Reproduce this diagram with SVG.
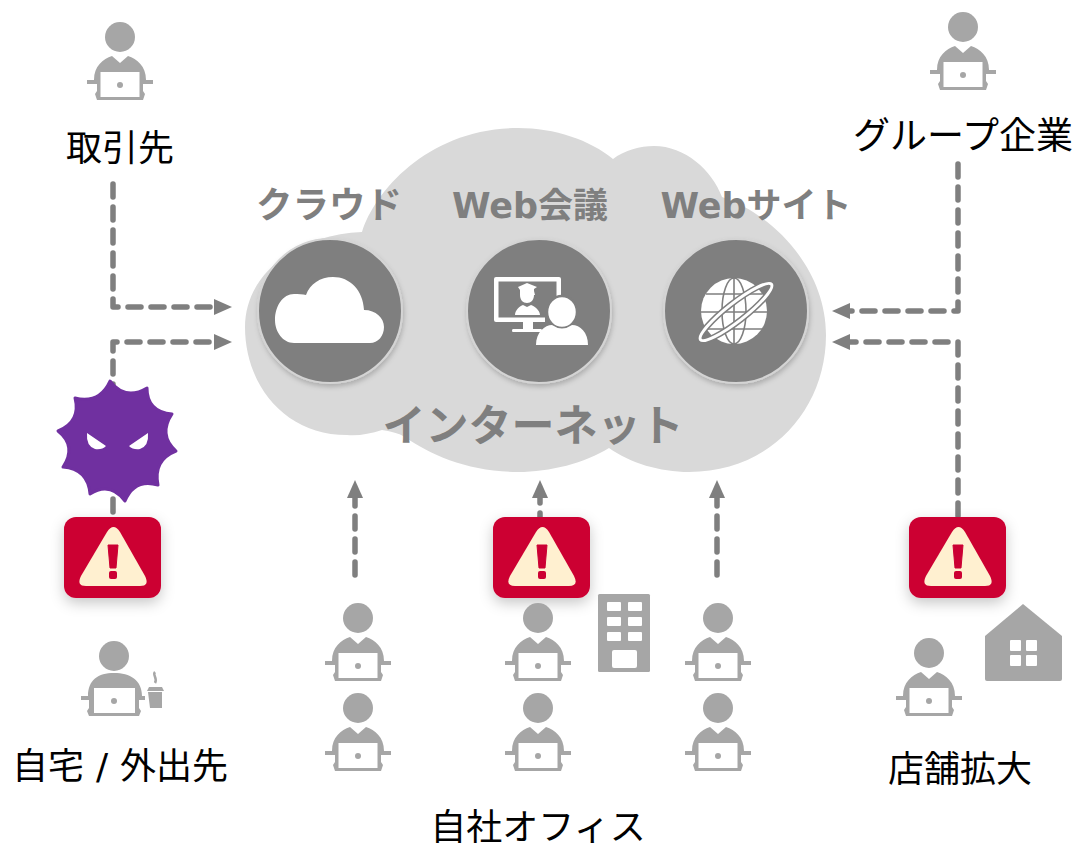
<svg xmlns="http://www.w3.org/2000/svg" xmlns:xlink="http://www.w3.org/1999/xlink" width="1076" height="848" viewBox="0 0 1076 848">
<style>
.lbl{font-family:"Liberation Sans","Noto Sans CJK JP",sans-serif;font-size:36px;fill:#000;text-anchor:middle}
.ttl{font-family:"DejaVu Sans","Noto Sans CJK JP",sans-serif;font-weight:700;fill:#7f7f7f;text-anchor:middle}
.dash{fill:none;stroke:#7f7f7f;stroke-width:5.500;stroke-dasharray:13 10;stroke-linecap:round;stroke-linejoin:round}
.c{fill:#7f7f7f;stroke:#d4d4d4;stroke-width:2;filter:url(#sh)}
.g{fill:#a6a6a6}
.w{fill:#fff}
</style>
<defs>
<filter id="sh" x="-20%" y="-20%" width="140%" height="140%"><feDropShadow dx="1" dy="3" stdDeviation="2.500" flood-color="#000" flood-opacity=".2"/></filter>
<filter id="as" x="-30%" y="-30%" width="160%" height="170%"><feDropShadow dx="0" dy="5" stdDeviation="7" flood-color="#000" flood-opacity=".22"/></filter>
<g id="person">
<circle cx="0" cy="0" r="15" class="g"/>
<path class="g" d="M-26 43C-26 29-17 22-8 19L0 26 8 19C17 22 26 29 26 43V47H23V54L25 57 23 63H-23L-25 57-23 54V47H-26Z"/>
<rect x="-33" y="43" width="66" height="4" class="g"/>
<rect x="-19.500" y="35" width="39" height="25" class="w"/>
<circle cx="0" cy="48" r="3" class="g"/>
</g>
<g id="alert">
<rect x="0" y="0" width="97" height="81" rx="12" fill="#cc0033" filter="url(#as)"/>
<path d="M43 15Q49.500 5 56 15L81 59Q86 69 76 69H22Q12 69 17 59Z" fill="#fff0d0"/>
<path d="M44 28H54L52 51H46Z" fill="#cc0033" stroke="#cc0033" stroke-width="1" stroke-linejoin="round"/>
<rect x="45" y="54" width="8" height="8" rx="2" fill="#cc0033"/>
</g>
</defs>

<path id="internet-cloud" fill="#d9d9d9" d="M362 232C375 190 430 128 518 128C555 128 590 140 613 159C625 150 640 146 654 146C685 146 712 170 722 197C775 215 826 270 826 335C826 410 770 472 689 472C660 472 630 463 609 448C585 463 550 472 518 472C470 472 430 455 405 437C398 433 390 431 382 430C370 434 358 436 347 435C285 435 245 385 245 327C245 275 295 235 362 232Z"/>

<g id="connectors">
<path class="dash" d="M113 184V307H214"/>
<path class="dash" d="M113 512V342H214"/>
<path class="dash" d="M958 164V311H850"/>
<path class="dash" d="M958 516V342H850"/>
<path class="dash" d="M355 575V498"/>
<path class="dash" d="M540 572V498"/>
<path class="dash" d="M717 575V498"/>
<g fill="#7f7f7f">
<path d="M232 307L214 299V315Z"/>
<path d="M232 342L214 334V350Z"/>
<path d="M832 311L850 303V319Z"/>
<path d="M832 342L850 334V350Z"/>
<path d="M355 480L347 498H363Z"/>
<path d="M540 480L532 498H548Z"/>
<path d="M717 480L709 498H725Z"/>
</g>
</g>

<g id="cloud-service">
<circle class="c" cx="330" cy="311" r="72"/>
<path class="w" d="M294 343C283 343 275 332 275 320C275 306 283 294 294 294C298 294 303 294 306 295C310 284 320 277 333 277C350 277 363 290 364 310C376 310 384 318 384 327C384 336 378 343 370 343Z"/>
<text class="ttl" x="329" y="218" font-size="36.500">クラウド</text>
</g>
<g id="web-meeting">
<circle class="c" cx="539" cy="311" r="72"/>
<path class="w" fill-rule="evenodd" d="M496 277H559Q561 277 561 279V307H556.500V281.500H498.500V317.500H545V322H533V329H541Q542 329 542 330.500Q542 332 541 332H513Q512 332 512 330.500Q512 329 513 329H523V322H496Q494 322 494 320V279Q494 277 496 277Z"/>
<path class="w" d="M518 287L527 283 537 287 534 289V291L535 295H534C534 300 531 303 527 303C523 303 520 300 520 295V290ZM515 315C515 310 520 306 523 305L527 307 531 305C534 306 540 310 540 315Z"/>
<ellipse cx="562" cy="312" rx="15" ry="16" class="w" stroke="#7f7f7f" stroke-width="2.500"/>
<path class="w" d="M536 345C536 332 545 325 552 325Q562 332 572 325C580 325 588 332 588 345Z"/>
<text class="ttl" x="530" y="218" font-size="35">Web会議</text>
</g>
<g id="website">
<circle class="c" cx="736" cy="311" r="72"/>
<circle cx="734" cy="311" r="33" class="w"/>
<g fill="none" stroke="#7f7f7f" stroke-width="1.600">
<ellipse cx="734" cy="311" rx="12" ry="33"/>
<path d="M734 278V344M701 312H767M706 294H762M706 329H762"/>
</g>
<ellipse cx="736" cy="312" rx="45" ry="9" transform="rotate(-38 736 312)" fill="none" stroke="#7f7f7f" stroke-width="6"/>
<ellipse cx="736" cy="312" rx="45" ry="9" transform="rotate(-38 736 312)" fill="none" stroke="#fff" stroke-width="3"/>
<text class="ttl" x="756" y="218" font-size="35">Webサイト</text>
</g>
<text id="internet-label" class="ttl" x="533" y="441" font-size="43">インターネット</text>

<g id="partner"><use xlink:href="#person" href="#person" x="120" y="37"/><text class="lbl" x="120" y="161">取引先</text></g>
<g id="group-company"><use xlink:href="#person" href="#person" x="963" y="27"/><text class="lbl" x="963" y="149" style="font-size:37px">グループ企業</text></g>

<g id="virus">
<path fill="#7030a0" stroke="#7030a0" stroke-width="3" stroke-linejoin="round" d="M110 381Q125 401 147 388Q147 412 172 414Q158 435 176 451Q153 460 158 485Q134.500 478 125 501Q110 481 90 494Q88 469 63 467Q77 446 58 431Q81 422 75 398Q99.500 404 110 381Z"/>
<path class="w" d="M87 433L106 446Q102 450 95 449Q86 446 87 433ZM148 433L129 446Q133 450 140 449Q149 446 148 433Z"/>
</g>

<g id="alert-home"><use xlink:href="#alert" href="#alert" x="64" y="517"/></g>
<g id="alert-office"><use xlink:href="#alert" href="#alert" x="493" y="517"/></g>
<g id="alert-shop"><use xlink:href="#alert" href="#alert" x="909" y="517"/></g>

<g id="home-worker">
<circle cx="114" cy="656" r="15" class="g"/>
<path class="g" d="M88 696C88 680 98 673 114 673C130 673 142 680 142 696V700H139V708L141 711 139 716H89L87 711 89 708V700H88Z"/>
<rect x="81" y="696" width="64" height="4" class="g"/>
<rect x="94" y="688" width="41" height="25" class="w"/>
<circle cx="114" cy="701" r="3" class="g"/>
<path class="g" d="M147 691L149 687H162L164 691ZM148 692H162V708H150Z"/>
<path d="M155 672C152 675 158 678 155 683" fill="none" stroke="#a6a6a6" stroke-width="2.500"/>
<text class="lbl" x="120" y="779" style="word-spacing:2px">自宅 <tspan font-family="DejaVu Sans">/</tspan> 外出先</text>
</g>

<g id="office">
<use xlink:href="#person" href="#person" x="358" y="618"/>
<use xlink:href="#person" href="#person" x="358" y="708"/>
<use xlink:href="#person" href="#person" x="538" y="618"/>
<use xlink:href="#person" href="#person" x="538" y="708"/>
<use xlink:href="#person" href="#person" x="718" y="618"/>
<use xlink:href="#person" href="#person" x="718" y="708"/>
<rect x="598" y="594" width="52" height="78" rx="1.500" class="g"/>
<g class="w">
<rect x="607" y="602" width="14" height="9" rx="1"/><rect x="628" y="602" width="14" height="9" rx="1"/>
<rect x="607" y="617" width="14" height="9" rx="1"/><rect x="628" y="617" width="14" height="9" rx="1"/>
<rect x="607" y="632" width="14" height="9" rx="1"/><rect x="628" y="632" width="14" height="9" rx="1"/>
<rect x="612" y="650" width="25" height="18" rx="2"/>
</g>
<text class="lbl" x="538" y="840">自社オフィス</text>
</g>

<g id="shop">
<use xlink:href="#person" href="#person" x="929" y="653"/>
<path class="g" d="M1023 604L1062 636V679Q1062 681 1060 681H987Q985 681 985 679V636Z"/>
<g class="w">
<rect x="1010" y="640" width="11" height="11" rx="1"/><rect x="1026" y="640" width="11" height="11" rx="1"/>
<rect x="1010" y="655" width="11" height="11" rx="1"/><rect x="1026" y="655" width="11" height="11" rx="1"/>
</g>
<text class="lbl" x="960" y="782">店舗拡大</text>
</g>
</svg>
